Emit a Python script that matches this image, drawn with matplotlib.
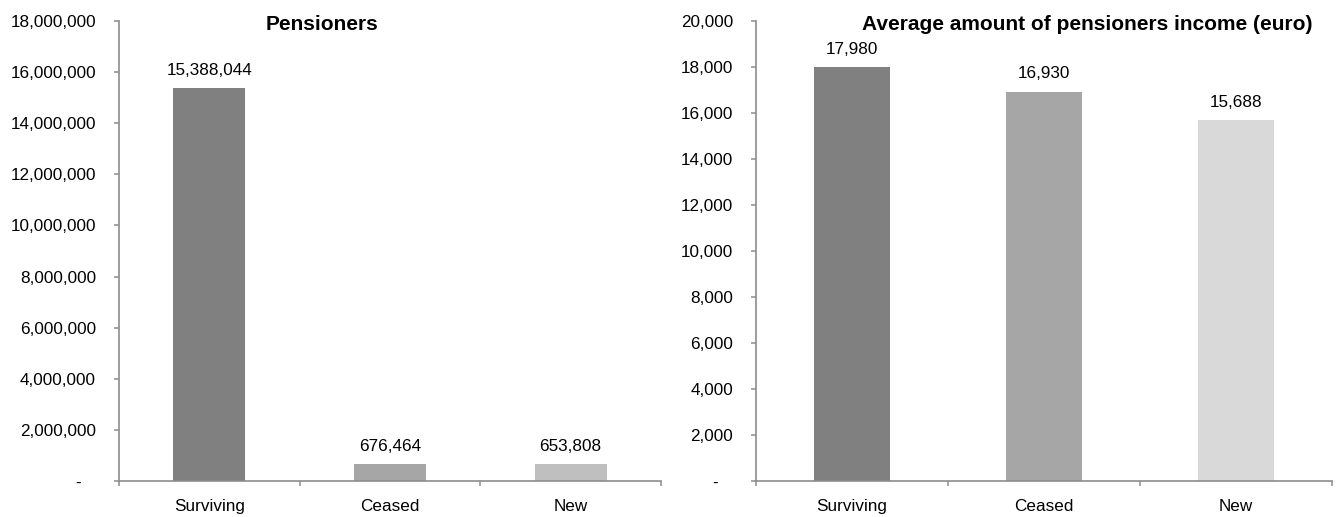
import matplotlib
matplotlib.use("Agg")
import matplotlib.pyplot as plt
from matplotlib.ticker import FuncFormatter, FixedLocator

plt.rcParams['font.family'] = ['Liberation Sans', 'DejaVu Sans']

categories = ["Surviving", "Ceased", "New"]

pensioners = [15388044, 676464, 653808]
pensioners_colors = ["#808080", "#a6a6a6", "#bfbfbf"]
pensioners_title = "Pensioners"
pensioners_yticks = list(range(0, 18000001, 2000000))

avg_income = [17980, 16930, 15688]
avg_income_colors = ["#808080", "#a6a6a6", "#d9d9d9"]
avg_income_title = "Average amount of pensioners income (euro)"
avg_income_yticks = list(range(0, 20001, 2000))

W, H = 1338, 517
fig = plt.figure(figsize=(W / 100, H / 100), dpi=100)

AXIS_GRAY = "#8c8c8c"
FS = 12.3


def thousands(v, _pos=None):
    if v == 0:
        return "-   "
    return f"{int(round(v)):,}"


def draw_panel(rect, values, colors, yticks, title, title_x):
    ax = fig.add_axes(rect)
    x = list(range(len(categories)))
    bars = ax.bar(x, values, width=0.4, color=colors, zorder=2)
    ax.set_xlim(-0.5, len(categories) - 0.5)
    ax.set_ylim(yticks[0], yticks[-1])

    for s in ("top", "right"):
        ax.spines[s].set_visible(False)
    for s in ("left", "bottom"):
        ax.spines[s].set_color(AXIS_GRAY)
        ax.spines[s].set_linewidth(1.2)

    ax.yaxis.set_major_locator(FixedLocator(yticks))
    ax.yaxis.set_major_formatter(FuncFormatter(thousands))
    ax.tick_params(axis="y", direction="out", length=3.6, width=1.1,
                   color=AXIS_GRAY, pad=13, labelsize=FS)

    ax.set_xticks(x)
    ax.set_xticklabels(categories)
    ax.set_xticks([i - 0.5 for i in range(len(categories) + 1)], minor=True)
    ax.tick_params(axis="x", which="major", length=0, pad=13, labelsize=FS)
    ax.tick_params(axis="x", which="minor", direction="out", length=3.6,
                   width=1.1, color=AXIS_GRAY)

    for rect_, v in zip(bars, values):
        ax.annotate(f"{v:,}", (rect_.get_x() + rect_.get_width() / 2, v),
                    xytext=(0, 9.5), textcoords="offset points",
                    ha="center", va="baseline", fontsize=FS)

    fig.text(title_x, 1 - 25 / H, title, ha="center", va="center",
             fontsize=15, fontweight="bold")
    return ax


draw_panel([119 / W, 36 / H, 542 / W, 460 / H], pensioners,
           pensioners_colors, pensioners_yticks, pensioners_title, 322 / W)
draw_panel([756 / W, 36 / H, 576 / W, 460 / H], avg_income,
           avg_income_colors, avg_income_yticks, avg_income_title, 1087 / W)

fig.savefig("out.png", dpi=100)
